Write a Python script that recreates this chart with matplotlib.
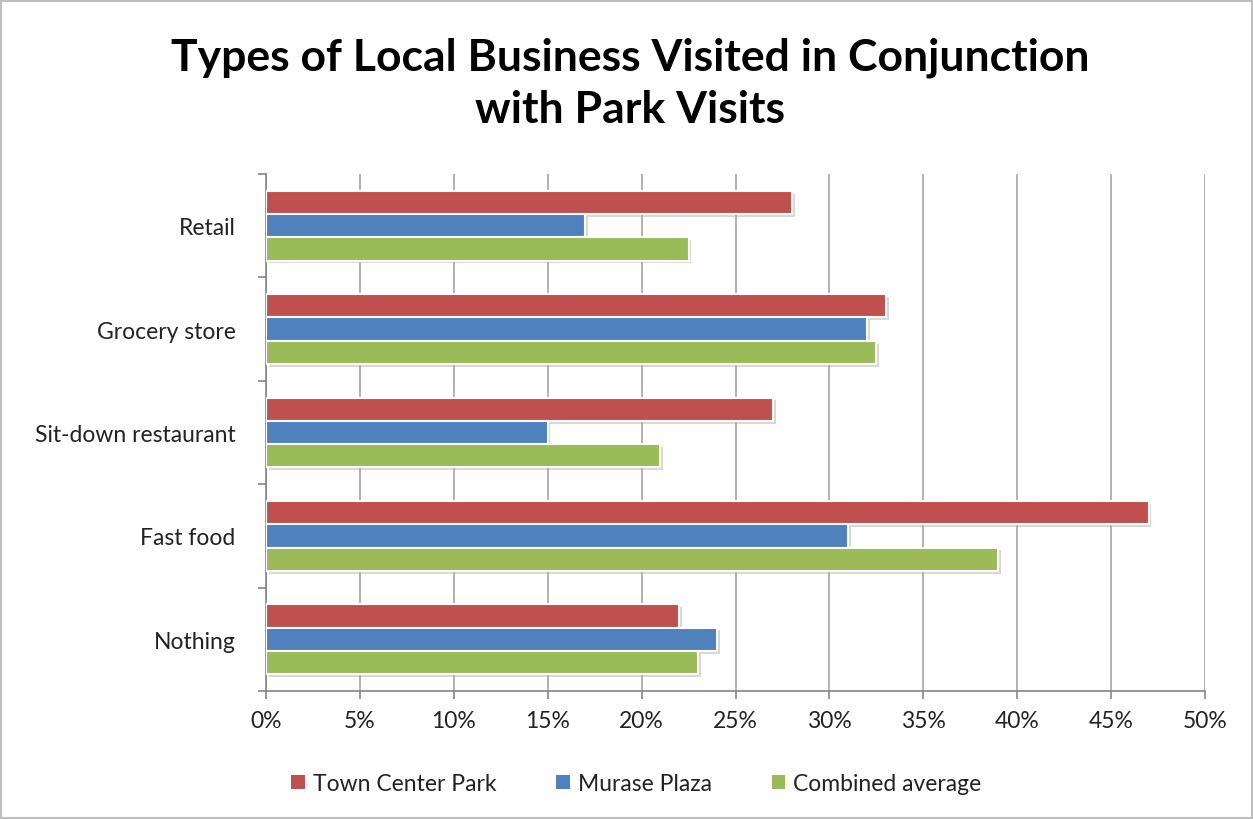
import numpy as np
import matplotlib
matplotlib.use("Agg")
import matplotlib.pyplot as plt
import matplotlib.patheffects as pe
from matplotlib.patches import Patch
from matplotlib.ticker import FixedLocator, PercentFormatter

plt.rcParams['font.family'] = ['Lato', 'DejaVu Sans']

categories = ["Retail", "Grocery store", "Sit-down restaurant", "Fast food", "Nothing"]
series = ["Town Center Park", "Murase Plaza", "Combined average"]
town_center = [28, 33, 27, 47, 22]
murase = [17, 32, 15, 31, 24]
combined = [22.5, 32.5, 21, 39, 23]
colors = ["#C0504D", "#4F81BD", "#9BBB59"]

fig = plt.figure(figsize=(12.53, 8.2), dpi=100)
ax = fig.add_axes([0.2123, 0.1561, 0.7494, 0.6305])

y = np.arange(len(categories))
h = 0.225
shadow = [pe.SimplePatchShadow(offset=(2, -2), shadow_rgbFace="#AAAAAA", alpha=0.45), pe.Normal()]
for i, (vals, name) in enumerate(zip([town_center, murase, combined], series)):
    bars = ax.barh(y + (i - 1) * h, vals, height=h, color=colors[i], edgecolor="white",
                   linewidth=1.5, label=name, zorder=3)
    for b in bars:
        b.set_path_effects(shadow)

ax.set_xlim(0, 50)
ax.set_ylim(len(categories) - 0.5, -0.5)
ax.xaxis.set_major_locator(FixedLocator(np.arange(0, 51, 5)))
ax.xaxis.set_major_formatter(PercentFormatter(decimals=0))
ax.grid(axis="x", color="#A6A6A6", linewidth=1.2, zorder=0)

ax.set_yticks(y)
ax.set_yticklabels(categories)
ax.set_yticks(np.arange(-0.5, len(categories)), minor=True)
ax.tick_params(axis="y", which="major", length=0, pad=22, labelsize=16.5, labelcolor="#222222")
ax.tick_params(axis="y", which="minor", length=6, color="#868686", width=1.2)
ax.tick_params(axis="x", length=6, color="#868686", width=1.2, labelsize=16.5,
               labelcolor="#222222", pad=8, direction="out")

for s in ["top", "right"]:
    ax.spines[s].set_visible(False)
for s in ["left", "bottom"]:
    ax.spines[s].set_color("#868686")
    ax.spines[s].set_linewidth(1.2)

fig.text(0.503, 0.898, "Types of Local Business Visited in Conjunction\nwith Park Visits",
         ha="center", va="center", fontsize=32, fontweight="bold", linespacing=1.35)

# plain squares for the legend keys
handles = [Patch(facecolor=c, edgecolor="none") for c in colors]
leg = fig.legend(handles, series, loc="center", bbox_to_anchor=(0.508, 0.043), ncol=3,
                 frameon=False, fontsize=16.5, handlelength=0.6, handleheight=0.6,
                 handletextpad=0.35, columnspacing=2.6)
for t in leg.get_texts():
    t.set_color("#222222")

# outer border
fig.add_artist(plt.Rectangle((0.001, 0.001), 0.998, 0.997, transform=fig.transFigure,
                             fill=False, edgecolor="#BFBFBF", linewidth=1.5))

fig.savefig("out.png", dpi=100)
